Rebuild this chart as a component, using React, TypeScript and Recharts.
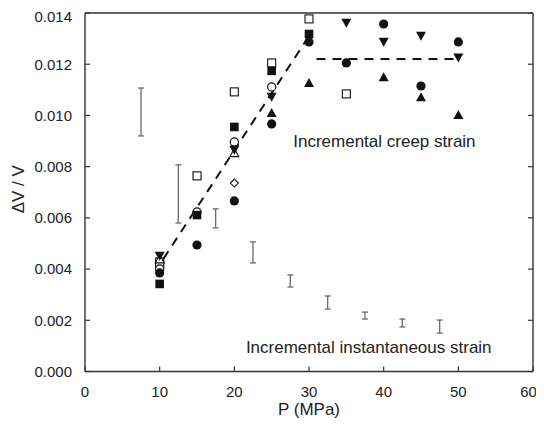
import React from 'react';
import { ScatterChart, Scatter, XAxis, YAxis, ErrorBar, ReferenceDot } from 'recharts';

// ---- axes ----
const xTicks = [0, 10, 20, 30, 40, 50, 60];
const yTicks = [0, 0.002, 0.004, 0.006, 0.008, 0.01, 0.012, 0.014];

// ---- incremental creep strain (markers) ----
const filledCircleP = [10, 15, 20, 25, 30, 35, 40, 45, 50];
const filledCircleV = [0.00385, 0.00494, 0.00666, 0.00967, 0.01287, 0.01205, 0.01357, 0.01115, 0.01287];
const openCircleP = [10, 15, 20, 25];
const openCircleV = [0.004, 0.00623, 0.00896, 0.01111];
const filledSquareP = [10, 15, 20, 25, 30];
const filledSquareV = [0.00342, 0.00611, 0.00955, 0.01174, 0.01318];
const openSquareP = [10, 10, 15, 20, 25, 30, 35];
const openSquareV = [0.00428, 0.00416, 0.00764, 0.01092, 0.01205, 0.01377, 0.01084];
const triDownP = [10, 20, 25, 35, 40, 45, 50];
const triDownV = [0.00451, 0.00865, 0.01072, 0.01361, 0.01287, 0.0131, 0.01225];
const triUpP = [25, 30, 40, 45, 50];
const triUpV = [0.0101, 0.01127, 0.0115, 0.01072, 0.01002];
const openTriUpP = [10, 20];
const openTriUpV = [0.00439, 0.00854];
const diamondP = [20];
const diamondV = [0.00736];

// ---- trend lines (dashed) ----
const riseP = [10.5, 30];
const riseV = [0.0044, 0.0131];
const plateauP = [31, 50];
const plateauV = [0.0122, 0.0122];

// ---- incremental instantaneous strain (error bars) ----
const instP = [7.5, 12.5, 17.5, 22.5, 27.5, 32.5, 37.5, 42.5, 47.5];
const instLow = [0.0092, 0.0058, 0.00561, 0.00424, 0.0033, 0.00244, 0.00205, 0.00174, 0.0015];
const instHigh = [0.01107, 0.00807, 0.00635, 0.00506, 0.00377, 0.00295, 0.00232, 0.00205, 0.00201];

// ---- annotations ----
const noteText = ['Incremental creep strain', 'Incremental instantaneous strain'];
const noteP = [40.1, 38.0];
const noteV = [0.009, 0.00096];

const pts = (xs: number[], ys: number[]) => xs.map((x, i) => ({ x, y: ys[i] }));
const instData = instP.map((x, i) => {
  const mid = (instLow[i] + instHigh[i]) / 2;
  return { x, y: mid, err: [mid - instLow[i], instHigh[i] - mid] };
});

const INK = '#111';

const shape = (kind: string) => (props: any) => {
  const { cx, cy } = props;
  if (cx == null || cy == null) return <g />;
  switch (kind) {
    case 'fc':
      return <circle cx={cx} cy={cy} r={4.6} fill={INK} />;
    case 'oc':
      return <circle cx={cx} cy={cy} r={4.1} fill="#fff" stroke={INK} strokeWidth={1.2} />;
    case 'fs':
      return <rect x={cx - 4.3} y={cy - 4.3} width={8.6} height={8.6} fill={INK} />;
    case 'os':
      return <rect x={cx - 4} y={cy - 4} width={8} height={8} fill="#fff" stroke={INK} strokeWidth={1.1} />;
    case 'td':
      return <path d={`M${cx - 5},${cy - 4.2}L${cx + 5},${cy - 4.2}L${cx},${cy + 4.8}Z`} fill={INK} />;
    case 'tu':
      return <path d={`M${cx - 5},${cy + 4.2}L${cx + 5},${cy + 4.2}L${cx},${cy - 4.8}Z`} fill={INK} />;
    case 'otu':
      return <path d={`M${cx - 4.5},${cy + 3.8}L${cx + 4.5},${cy + 3.8}L${cx},${cy - 4.4}Z`} fill="#fff" stroke={INK} strokeWidth={1.1} />;
    case 'od':
      return <path d={`M${cx},${cy - 4}L${cx + 4},${cy}L${cx},${cy + 4}L${cx - 4},${cy}Z`} fill="#fff" stroke={INK} strokeWidth={1.1} />;
    default:
      return <g />;
  }
};

const noShape = () => <g />;

const XTitle = (props: any) => {
  const { x, y, width, height } = props.viewBox;
  return (
    <text x={x + width / 2} y={y + height - 14.5} textAnchor="middle" fontSize={17} fill="#222">
      P (MPa)
    </text>
  );
};

const YTitle = (props: any) => {
  const { x, y, height } = props.viewBox;
  const cx = x + 10.5;
  const cy = y + height / 2 - 3;
  return (
    <text
      x={cx}
      y={cy}
      transform={`rotate(-90, ${cx}, ${cy})`}
      textAnchor="middle"
      dominantBaseline="central"
      fontSize={17}
      fill="#222"
    >
      ΔV / V
    </text>
  );
};

const axisLine = { stroke: '#333', strokeWidth: 1.4 };
const tickLine = { stroke: '#333', strokeWidth: 1.2 };
const tickStyle = { fontSize: 15, fill: '#222' };

export default function App() {
  return (
    <div style={{ width: 528, height: 423, overflow: 'visible' }}>
      <style>{'svg.recharts-surface { overflow: visible !important; } .recharts-wrapper { overflow: visible !important; }'}</style>
      <ScatterChart
        width={528}
        height={423}
        margin={{ top: 4, right: 2, bottom: 1.5, left: 0 }}
        style={{ fontFamily: '"Liberation Sans", Arial, Helvetica, sans-serif', overflow: 'visible' }}
      >
        <XAxis
          type="number"
          dataKey="x"
          domain={[0, 60]}
          ticks={xTicks}
          allowDataOverflow
          height={58}
          tickSize={-5}
          tickMargin={20}
          axisLine={axisLine}
          tickLine={tickLine}
          tick={tickStyle}
          label={{ content: XTitle }}
        />
        <XAxis
          xAxisId="top"
          orientation="top"
          type="number"
          domain={[0, 60]}
          ticks={xTicks}
          allowDataOverflow
          height={1}
          tickSize={-5}
          axisLine={axisLine}
          tickLine={tickLine}
          tickFormatter={() => ''}
        />
        <YAxis
          type="number"
          dataKey="y"
          domain={[0, 0.014]}
          ticks={yTicks}
          allowDataOverflow
          width={77}
          tickSize={-5}
          tickMargin={18}
          axisLine={axisLine}
          tickLine={tickLine}
          tick={tickStyle}
          tickFormatter={(v: number) => v.toFixed(3)}
          label={{ content: YTitle }}
        />
        <YAxis
          yAxisId="right"
          orientation="right"
          type="number"
          domain={[0, 0.014]}
          ticks={yTicks}
          allowDataOverflow
          width={1}
          tickSize={-5}
          axisLine={axisLine}
          tickLine={tickLine}
          tickFormatter={() => ''}
        />

        <Scatter
          data={pts(riseP, riseV)}
          shape={noShape}
          line={{ stroke: INK, strokeWidth: 2, strokeDasharray: '9 7' }}
          isAnimationActive={false}
        />
        <Scatter
          data={pts(plateauP, plateauV)}
          shape={noShape}
          line={{ stroke: INK, strokeWidth: 2, strokeDasharray: '9 7' }}
          isAnimationActive={false}
        />

        <Scatter data={instData} shape={noShape} isAnimationActive={false}>
          <ErrorBar dataKey="err" direction="y" width={3} stroke="#6a6a6a" strokeWidth={1.3} isAnimationActive={false} />
        </Scatter>

        <Scatter data={pts(openSquareP, openSquareV)} shape={shape('os')} isAnimationActive={false} />
        <Scatter data={pts(openCircleP, openCircleV)} shape={shape('oc')} isAnimationActive={false} />
        <Scatter data={pts(openTriUpP, openTriUpV)} shape={shape('otu')} isAnimationActive={false} />
        <Scatter data={pts(diamondP, diamondV)} shape={shape('od')} isAnimationActive={false} />
        <Scatter data={pts(filledSquareP, filledSquareV)} shape={shape('fs')} isAnimationActive={false} />
        <Scatter data={pts(triDownP, triDownV)} shape={shape('td')} isAnimationActive={false} />
        <Scatter data={pts(triUpP, triUpV)} shape={shape('tu')} isAnimationActive={false} />
        <Scatter data={pts(filledCircleP, filledCircleV)} shape={shape('fc')} isAnimationActive={false} />

        {noteText.map((t, i) => (
          <ReferenceDot
            key={t}
            x={noteP[i]}
            y={noteV[i]}
            r={0}
            fill="none"
            stroke="none"
            ifOverflow="visible"
            label={{ value: t, position: 'center', fontSize: 17, fill: '#222' }}
          />
        ))}
      </ScatterChart>
    </div>
  );
}
